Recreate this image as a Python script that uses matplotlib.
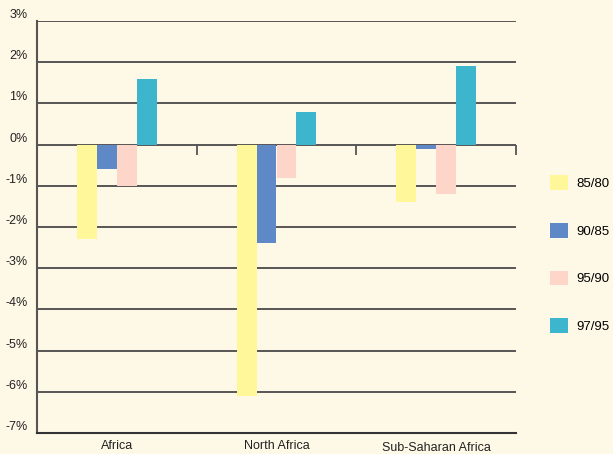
import matplotlib
matplotlib.use("Agg")
import matplotlib.pyplot as plt
from matplotlib.patches import Patch
import numpy as np

categories = ["Africa", "North Africa", "Sub-Saharan Africa"]
series = ["85/80", "90/85", "95/90", "97/95"]
v_85_80 = [-2.3, -6.1, -1.4]
v_90_85 = [-0.6, -2.4, -0.1]
v_95_90 = [-1.0, -0.8, -1.2]
v_97_95 = [1.6, 0.8, 1.9]
yticks = [3, 2, 1, 0, -1, -2, -3, -4, -5, -6, -7]
ytick_labels = ["3%", "2%", "1%", "0%", "-1%", "-2%", "-3%", "-4%", "-5%", "-6%", "-7%"]

colors = ["#FFF799", "#5E88C6", "#FDD5C9", "#3DB5CC"]
bg = "#FEF8E6"
fam = ["Liberation Sans", "DejaVu Sans"]

fig = plt.figure(figsize=(6.13, 4.54), dpi=100, facecolor=bg)
ax = fig.add_axes([37/613, 21/454, 479/613, 412/454], facecolor=bg)

x = np.arange(len(categories))
w = 0.125
vals = [v_85_80, v_90_85, v_95_90, v_97_95]
for i, (v, c) in enumerate(zip(vals, colors)):
    ax.bar(x + (i - 1.5) * w, v, width=w, color=c, zorder=3, linewidth=0)

ax.set_xlim(-0.5, 2.5)
ax.set_ylim(-7, 3)
ax.set_yticks(yticks)
ax.set_yticklabels(ytick_labels, fontfamily=fam, fontsize=9, color="#222222")
for lbl in ax.get_yticklabels():
    lbl.set_verticalalignment("bottom")
ax.tick_params(axis="y", length=0, pad=7)
ax.grid(axis="y", color="#4a4a4a", linewidth=1.3, zorder=1)
ax.set_xticks([])
for s in ["top", "right"]:
    ax.spines[s].set_visible(False)
ax.spines["left"].set_color("#555555")
ax.spines["left"].set_linewidth(1.5)
ax.spines["bottom"].set_color("#333333")
ax.spines["bottom"].set_linewidth(1.5)

# category boundary ticks on zero line
bounds = np.append(x[:-1] + 0.5, x[-1] + 0.5)
ax.vlines(bounds, -0.25, 0, color="#555555", linewidth=1.3, zorder=2, clip_on=False)

# category labels
for xi, cat in zip(x, categories):
    off = -0.22 if cat == "Sub-Saharan Africa" else -0.17
    ax.text(xi, -7.0 + off, cat, ha="center", va="top", fontfamily=fam,
            fontsize=9, color="#222222", clip_on=False)

handles = [Patch(facecolor=c, edgecolor="none") for c in colors]
fig.legend(handles, series, loc="upper left", bbox_to_anchor=(546/613, 1 - 171/454),
           frameon=False, prop={"family": fam, "size": 9.5},
           handlelength=1.4, handleheight=1.35, labelspacing=2.5, handletextpad=0.6,
           borderaxespad=0, borderpad=0.3)

fig.savefig("out.png", dpi=100, facecolor=bg)
